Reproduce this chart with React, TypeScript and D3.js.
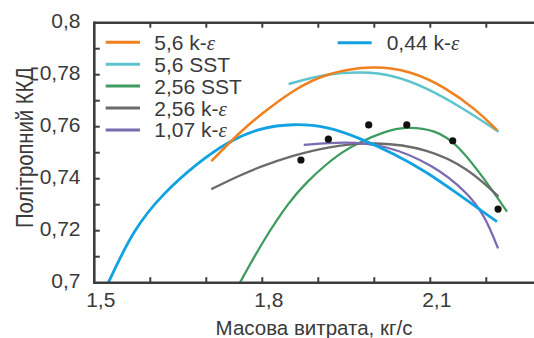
import React from "react";
import * as d3 from "d3";

const W = 534;
const H = 338;

// Axis ticks
const xTickValues = [1.5, 1.6, 1.7, 1.8, 1.9, 2.0, 2.1, 2.2];
const xLabelValues = [1.5, 1.8, 2.1];
const xLabelTexts = ["1,5", "1,8", "2,1"];
const yTickValues = [0.7, 0.71, 0.72, 0.73, 0.74, 0.75, 0.76, 0.77, 0.78, 0.79, 0.8];
const yLabelValues = [0.7, 0.72, 0.74, 0.76, 0.78, 0.8];
const yLabelTexts = ["0,7", "0,72", "0,74", "0,76", "0,78", "0,8"];

// Series (mass flow, kg/s -> polytropic efficiency)
const orangeX = [1.709, 1.761, 1.796, 1.856, 1.916, 1.999, 2.064, 2.124, 2.183, 2.219];
const orangeY = [0.7468, 0.7581, 0.7645, 0.7743, 0.7808, 0.7836, 0.7815, 0.7756, 0.7664, 0.7587];

const cyanX = [1.847, 1.916, 1.975, 2.034, 2.094, 2.154, 2.222];
const cyanY = [0.7764, 0.7804, 0.7811, 0.78, 0.7749, 0.7677, 0.7581];

const greenX = [1.76, 1.802, 1.85, 1.88, 1.909, 1.939, 1.969, 2.02, 2.055, 2.109, 2.15, 2.198, 2.237];
const greenY = [0.7, 0.7164, 0.7318, 0.7388, 0.7446, 0.7498, 0.7536, 0.7583, 0.76, 0.7589, 0.753, 0.7395, 0.7273];

const grayX = [1.709, 1.761, 1.796, 1.85, 1.916, 2.005, 2.094, 2.168, 2.222];
const grayY = [0.736, 0.7414, 0.7446, 0.7486, 0.7524, 0.7543, 0.7516, 0.744, 0.7331];

const purpleX = [1.874, 1.945, 2.02, 2.106, 2.168, 2.198, 2.221];
const purpleY = [0.753, 0.7543, 0.7531, 0.7453, 0.7344, 0.7254, 0.7132];

const blueX = [1.525, 1.57, 1.622, 1.684, 1.738, 1.796, 1.856, 1.916, 1.975, 2.034, 2.094, 2.139, 2.219];
const blueY = [0.7, 0.7205, 0.7342, 0.746, 0.7542, 0.7596, 0.7612, 0.7601, 0.7555, 0.7497, 0.7425, 0.7357, 0.7235];

const dotX = [1.869, 1.918, 1.99, 2.058, 2.14, 2.221];
const dotY = [0.7472, 0.7552, 0.7607, 0.7607, 0.7546, 0.7283];

const legendLeft = [
  { num: "5,6", model: "k-ε", key: "orange" },
  { num: "5,6", model: "SST", key: "cyan" },
  { num: "2,56", model: "SST", key: "green" },
  { num: "2,56", model: "k-ε", key: "gray" },
  { num: "1,07", model: "k-ε", key: "purple" },
];
const legendRight = [{ num: "0,44", model: "k-ε", key: "blue" }];

const colors: Record<string, string> = {
  orange: "#F0801E",
  cyan: "#5DC3CE",
  green: "#3E9C5F",
  gray: "#6B6B6B",
  purple: "#7A6AB2",
  blue: "#12A2E2",
};

const seriesList = [
  { key: "green", xs: greenX, ys: greenY, w: 2.3 },
  { key: "gray", xs: grayX, ys: grayY, w: 2.3 },
  { key: "purple", xs: purpleX, ys: purpleY, w: 2.3 },
  { key: "blue", xs: blueX, ys: blueY, w: 2.8 },
  { key: "cyan", xs: cyanX, ys: cyanY, w: 2.5 },
  { key: "orange", xs: orangeX, ys: orangeY, w: 2.5 },
];

const FONT = "'Liberation Sans', Arial, sans-serif";
const TEXT = "#3a3a3a";
const AXIS = "#3d3d3d";

export default function App() {
  const left = 94.3;
  const top = 22.7;
  const bottom = 282.7;
  const x = d3.scaleLinear().domain([1.5, 2.3]).range([left, left + 0.8 * 560]);
  const y = d3.scaleLinear().domain([0.7, 0.8]).range([bottom, top]);

  const line = d3
    .line<[number, number]>()
    .x((d) => x(d[0]))
    .y((d) => y(d[1]))
    .curve(d3.curveBasis);

  const legendLine = (item: any, lx1: number, lx2: number, tx: number, ly: number, i: number) => (
    <g key={item.key + i}>
      <line x1={lx1} x2={lx2} y1={ly} y2={ly} stroke={colors[item.key]} strokeWidth={3} />
      <text x={tx} y={ly + 7.5} fontSize={21} fontFamily={FONT} fill={TEXT}>
        {item.num + " "}
        {item.model === "k-ε" ? (
          <>
            {"k-"}
            <tspan fontFamily="'Liberation Serif', serif" fontStyle="italic">ε</tspan>
          </>
        ) : (
          item.model
        )}
      </text>
    </g>
  );

  return (
    <svg
      width={W}
      height={H}
      style={{ position: "absolute", left: 0, top: 0, background: "#fff" }}
    >
      <rect x={0} y={0} width={W} height={H} fill="#fff" />

      {/* legend */}
      {legendLeft.map((it, i) => legendLine(it, 105.7, 140, 154.3, 42.3 + i * 21.9, i))}
      {legendRight.map((it, i) => legendLine(it, 337.7, 371.7, 386.7, 42.7, i))}

      {/* curves */}
      {seriesList.map((s) => (
        <path
          key={s.key}
          d={line(s.xs.map((v, i) => [v, s.ys[i]] as [number, number])) || ""}
          fill="none"
          stroke={colors[s.key]}
          strokeWidth={s.w}
          strokeLinecap="butt"
        />
      ))}

      {/* experimental points */}
      {dotX.map((v, i) => (
        <circle key={"d" + i} cx={x(v)} cy={y(dotY[i])} r={3.6} fill="#111" />
      ))}

      {/* axes */}
      <line x1={left} x2={W} y1={top} y2={top} stroke={AXIS} strokeWidth={2.4} />
      <line x1={left} x2={W} y1={bottom} y2={bottom} stroke={AXIS} strokeWidth={2.6} />
      <line x1={left} x2={left} y1={top - 1.2} y2={bottom + 1.3} stroke={AXIS} strokeWidth={2.6} />

      {xTickValues.slice(1).map((v) => (
        <g key={"xt" + v}>
          <line x1={x(v)} x2={x(v)} y1={bottom} y2={bottom - 5.5} stroke={AXIS} strokeWidth={2} />
          <line x1={x(v)} x2={x(v)} y1={top} y2={top + 5} stroke={AXIS} strokeWidth={2} />
        </g>
      ))}
      {yTickValues.slice(1, -1).map((v) => (
        <line key={"yt" + v} x1={left} x2={left + 5.5} y1={y(v)} y2={y(v)} stroke={AXIS} strokeWidth={2} />
      ))}

      {xLabelValues.map((v, i) => (
        <text
          key={"xl" + v}
          x={x(v) + 6.5}
          y={306.5}
          textAnchor="middle"
          fontSize={21}
          fontFamily={FONT}
          fill={TEXT}
        >
          {xLabelTexts[i]}
        </text>
      ))}
      {yLabelValues.map((v, i) => (
        <text
          key={"yl" + v}
          x={80.5}
          y={y(v) + 5}
          textAnchor="end"
          fontSize={21}
          fontFamily={FONT}
          fill={TEXT}
        >
          {yLabelTexts[i]}
        </text>
      ))}

      {/* axis titles */}
      <text x={314} y={335} textAnchor="middle" fontSize={20.5} fontFamily={FONT} fill={TEXT}>
        Масова витрата, кг/с
      </text>
      <text
        transform="translate(33,147.5) rotate(-90)"
        textAnchor="middle"
        fontSize={23}
        fontFamily={FONT}
        fill={TEXT}
        textLength={161}
        lengthAdjust="spacingAndGlyphs"
      >
        Політропний ККД
      </text>
    </svg>
  );
}
